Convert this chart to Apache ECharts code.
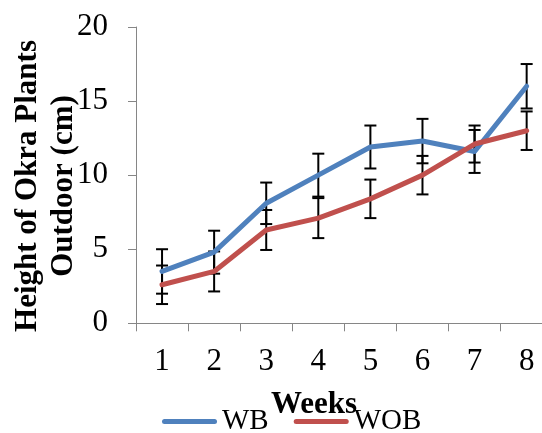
<!DOCTYPE html>
<html>
<head>
<meta charset="utf-8">
<script src="https://cdn.jsdelivr.net/npm/echarts@6/dist/echarts.min.js"></script>
<style>
  html, body { margin: 0; padding: 0; background: #fff; }
  #chart { width: 542px; height: 433px; }
</style>
</head>
<body>
<div id="chart"></div>
<script>
// ---- data ----
const weeks = ['1', '2', '3', '4', '5', '6', '7', '8'];
const wb = [3.5, 4.8, 8.1, 10.0, 11.9, 12.3, 11.6, 16.0];
const wob = [2.6, 3.5, 6.3, 7.1, 8.4, 10.0, 12.1, 13.0];
const wbErr = [1.5, 1.45, 1.4, 1.45, 1.45, 1.5, 1.45, 1.5];
const wobErr = [1.3, 1.35, 1.35, 1.35, 1.3, 1.3, 1.25, 1.3];
const yMin = 0, yMax = 20, yStep = 5;
const seriesNames = ['WB', 'WOB'];
const xTitle = 'Weeks';
const yTitle = 'Height of Okra Plants\nOutdoor (cm)';

const serif = '"Liberation Serif", "Times New Roman", serif';
const blue = '#4F81BD', red = '#C0504D';
const capsule = 'path://M2.5,0 L52.5,0 A2.5,2.5 0 0 1 52.5,5 L2.5,5 A2.5,2.5 0 0 1 2.5,0 Z';

function errRenderItem(params, api) {
  const x = api.value(0);
  const top = api.coord([x, api.value(2)]);
  const bot = api.coord([x, api.value(1)]);
  const hw = 6;
  const st = { stroke: '#000', lineWidth: 2 };
  return {
    type: 'group',
    children: [
      { type: 'line', shape: { x1: top[0], y1: top[1], x2: bot[0], y2: bot[1] }, style: st },
      { type: 'line', shape: { x1: top[0] - hw, y1: top[1], x2: top[0] + hw, y2: top[1] }, style: st },
      { type: 'line', shape: { x1: bot[0] - hw, y1: bot[1], x2: bot[0] + hw, y2: bot[1] }, style: st }
    ]
  };
}

const chart = echarts.init(document.getElementById('chart'), null, { renderer: 'canvas' });
chart.setOption({
  animation: false,
  backgroundColor: '#fff',
  grid: { left: 136, top: 27, right: -10.7, bottom: 109.7, containLabel: false, outerBoundsMode: 'none' },
  legend: {
    data: seriesNames.map(n => ({ name: n, icon: capsule })),
    left: 162,
    top: 407,
    padding: 0,
    itemWidth: 55,
    itemHeight: 5,
    itemGap: 25,
    textStyle: { fontFamily: serif, fontSize: 29, color: '#000' }
  },
  graphic: [
    {
      type: 'text',
      x: 314, y: 404.5,
      style: { text: xTitle, font: 'bold 31px ' + serif, fill: '#000', align: 'center', verticalAlign: 'middle' }
    },
    {
      type: 'text',
      x: 46, y: 186,
      rotation: Math.PI / 2,
      style: { text: yTitle, font: 'bold 31px ' + serif, fill: '#000', align: 'center', verticalAlign: 'middle', lineHeight: 36.5 }
    }
  ],
  xAxis: {
    type: 'category',
    data: weeks,
    boundaryGap: true,
    axisLine: { lineStyle: { color: '#868686', width: 1 } },
    axisTick: { show: true, length: 8, lineStyle: { color: '#868686' } },
    axisLabel: { margin: 23, fontFamily: serif, fontSize: 31, color: '#000' },
    splitLine: { show: false }
  },
  yAxis: {
    type: 'value',
    min: yMin, max: yMax, interval: yStep,
    axisLine: { show: true, lineStyle: { color: '#868686', width: 1 } },
    axisTick: { show: true, length: 8, lineStyle: { color: '#868686' } },
    axisLabel: { margin: 28, fontFamily: serif, fontSize: 31, color: '#000' },
    splitLine: { show: false }
  },
  series: [
    {
      name: 'WB-err', type: 'custom', z: 1, silent: true,
      renderItem: errRenderItem,
      encode: { x: 0, y: [1, 2] },
      data: weeks.map((w, i) => [i, wb[i] - wbErr[i], wb[i] + wbErr[i]])
    },
    {
      name: 'WOB-err', type: 'custom', z: 1, silent: true,
      renderItem: errRenderItem,
      encode: { x: 0, y: [1, 2] },
      data: weeks.map((w, i) => [i, wob[i] - wobErr[i], wob[i] + wobErr[i]])
    },
    {
      name: seriesNames[0], type: 'line', z: 3, data: wb,
      symbol: 'none', color: blue, itemStyle: { color: blue },
      lineStyle: { width: 5, color: blue, cap: 'round', join: 'round' }
    },
    {
      name: seriesNames[1], type: 'line', z: 3, data: wob,
      symbol: 'none', color: red, itemStyle: { color: red },
      lineStyle: { width: 5, color: red, cap: 'round', join: 'round' }
    }
  ]
});
</script>
</body>
</html>
